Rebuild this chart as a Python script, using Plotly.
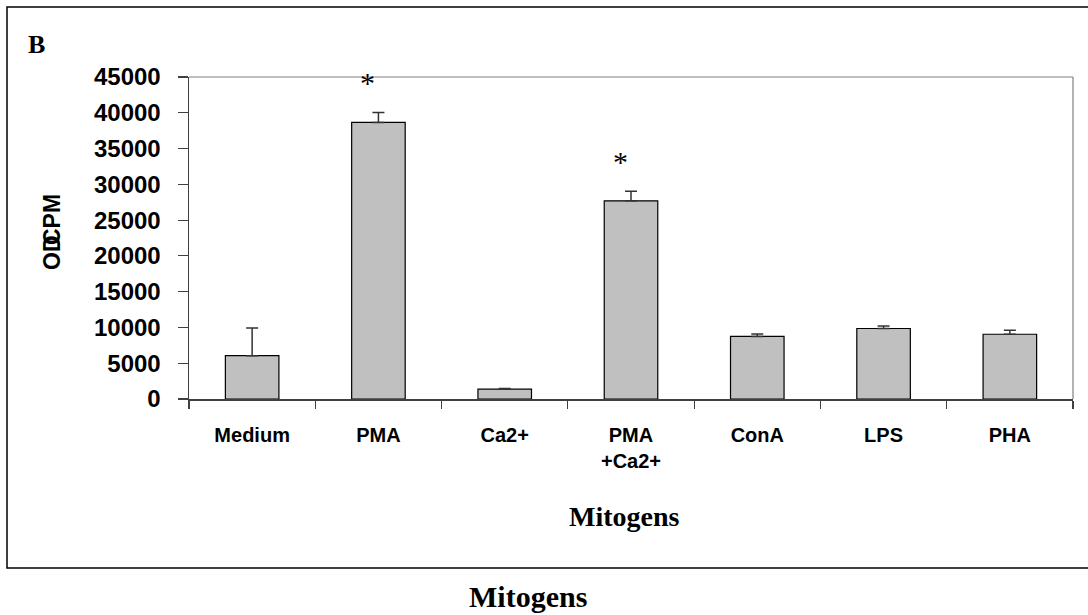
import plotly.graph_objects as go

# ---- data ----
categories = ["Medium", "PMA", "Ca2+", "PMA<br>+Ca2+", "ConA", "LPS", "PHA"]
cpm_values = [6050, 38650, 1370, 27700, 8750, 9850, 9050]
cpm_errors = [3880, 1400, 80, 1350, 320, 360, 560]
significant = ["PMA", "PMA<br>+Ca2+"]
y_tick_values = [0, 5000, 10000, 15000, 20000, 25000, 30000, 35000, 40000, 45000]

# ---- layout geometry (pixels) ----
W, H = 1088, 615
L, R, T, B = 189, 15, 77, 216
PW, PH = W - L - R, H - T - B


def px(x):
    return (x - L) / PW


def py(y):
    return (H - B - y) / PH


fig = go.Figure()
fig.add_trace(go.Bar(
    x=categories,
    y=cpm_values,
    marker=dict(color="#C0C0C0", line=dict(color="#000000", width=1.2)),
    error_y=dict(type="data", array=cpm_errors, arrayminus=[0] * len(cpm_errors),
                 symmetric=False, color="#333333", thickness=1.5, width=6),
    showlegend=False,
    hoverinfo="skip",
))

annotations = []
for cat in significant:
    i = categories.index(cat)
    annotations.append(dict(
        x=cat, y=cpm_values[i] + cpm_errors[i], xref="x", yref="y",
        text="*", showarrow=False, xshift=-11, yshift=30,
        font=dict(family="Liberation Serif", size=30, color="#000"),
        yanchor="middle",
    ))

# y-axis title: overlapping "CPM" and "OD"
annotations.append(dict(x=px(52), y=py(220), xref="paper", yref="paper", text="<b>CPM</b>",
                        textangle=-90, showarrow=False, xanchor="center", yanchor="middle",
                        font=dict(family="Liberation Sans", size=23, color="#000")))
annotations.append(dict(x=px(52), y=py(253), xref="paper", yref="paper", text="<b>OD</b>",
                        textangle=-90, showarrow=False, xanchor="center", yanchor="middle",
                        font=dict(family="Liberation Sans", size=23, color="#000")))
# panel letter
annotations.append(dict(x=px(36), y=py(44), xref="paper", yref="paper", text="<b>B</b>",
                        showarrow=False, xanchor="center", yanchor="middle",
                        font=dict(family="Liberation Serif", size=26, color="#000")))
# inner x title
annotations.append(dict(x=px(624), y=py(516), xref="paper", yref="paper", text="<b>Mitogens</b>",
                        showarrow=False, xanchor="center", yanchor="middle",
                        font=dict(family="Liberation Serif", size=28, color="#000")))
# outer caption
annotations.append(dict(x=px(528), y=py(596), xref="paper", yref="paper", text="<b>Mitogens</b>",
                        showarrow=False, xanchor="center", yanchor="middle",
                        font=dict(family="Liberation Serif", size=30, color="#000")))

shapes = [
    # outer frame (right side runs off the page)
    dict(type="rect", xref="paper", yref="paper", x0=px(7), x1=px(1100), y0=py(568), y1=py(7),
         line=dict(color="#000000", width=1.5), layer="below"),
    # plot area top and right border
    dict(type="line", xref="paper", yref="paper", x0=0, x1=1, y0=1, y1=1,
         line=dict(color="#808080", width=1.2)),
    dict(type="line", xref="paper", yref="paper", x0=1, x1=1, y0=0, y1=1,
         line=dict(color="#808080", width=1.2)),
]

fig.update_layout(
    width=W, height=H,
    margin=dict(l=L, r=R, t=T, b=B, pad=0),
    paper_bgcolor="white", plot_bgcolor="white",
    bargap=0.576,
    annotations=annotations,
    shapes=shapes,
    font=dict(family="Liberation Sans", color="#000"),
)

fig.update_xaxes(
    type="category",
    showline=True, linecolor="#404040", linewidth=1.5,
    ticks="outside", ticklen=8, tickcolor="#404040", tickwidth=1.2,
    tickson="boundaries",
    showgrid=False, zeroline=False,
    tickvals=categories,
    ticktext=["<b>" + c.replace("<br>", "</b><br><b>") + "</b>" for c in categories],
    tickfont=dict(family="Liberation Sans", size=20, color="#000"),
    ticklabelstandoff=17,
)

fig.update_yaxes(
    range=[0, 45000],
    showline=True, linecolor="#404040", linewidth=1.5,
    ticks="outside", ticklen=10, tickcolor="#404040", tickwidth=1.2,
    tickvals=y_tick_values,
    ticktext=["<b>%d</b>" % v for v in y_tick_values],
    tickfont=dict(family="Liberation Sans", size=24, color="#000"),
    showgrid=False, zeroline=False,
    ticklabelstandoff=12,
)

fig.write_html("out.html",
               config={"displayModeBar": False, "staticPlot": True},
               post_script="document.body.style.margin='0';document.body.style.overflow='hidden';")
